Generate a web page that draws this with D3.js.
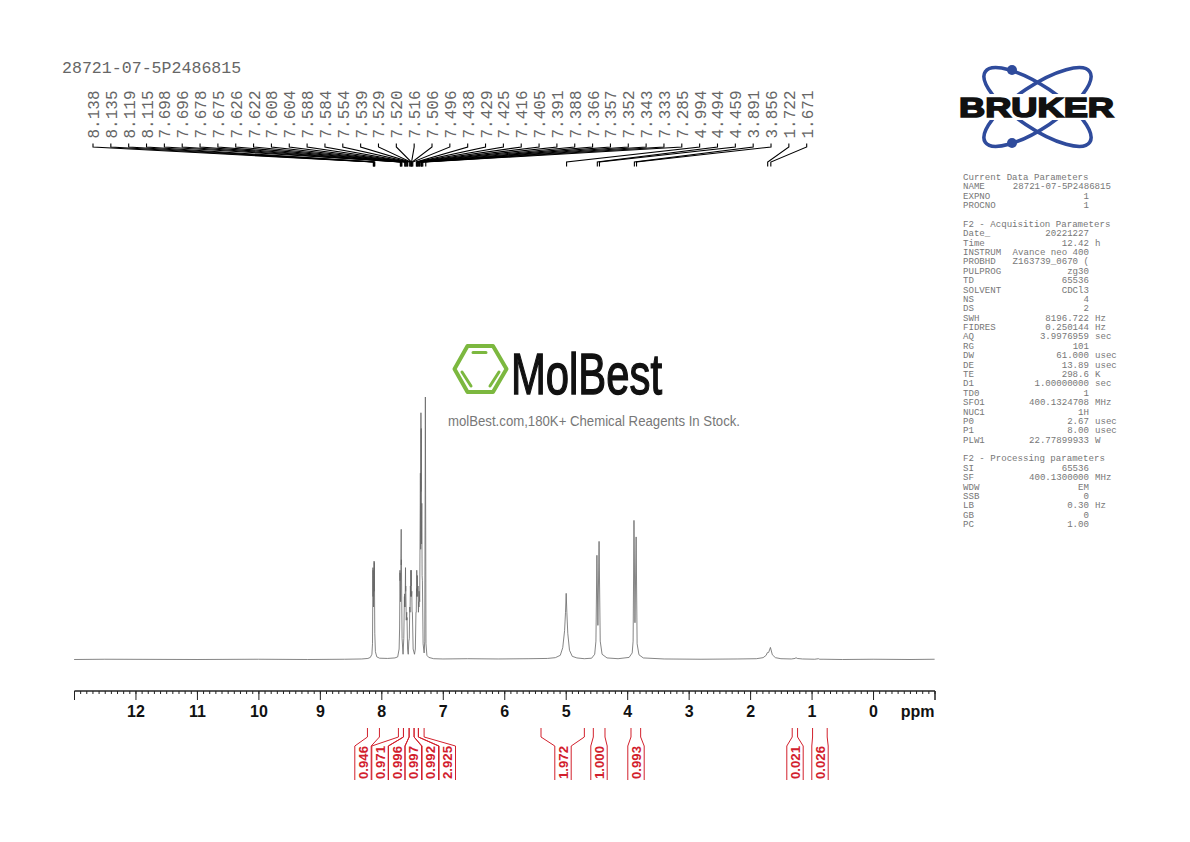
<!DOCTYPE html>
<html>
<head>
<meta charset="utf-8">
<title>28721-07-5P2486815</title>
<script src="https://cdn.jsdelivr.net/npm/d3@7"></script>
<style>
html, body { margin: 0; padding: 0; background: #fff; }
svg { display: block; }
</style>
</head>
<body>
<div id="chart"></div>
<script>
var sampleName = "28721-07-5P2486815";
var peakLabels = ["8.138","8.135","8.119","8.115","7.698","7.696","7.678","7.675","7.626","7.622","7.608","7.604","7.588","7.584","7.554","7.539","7.529","7.520","7.516","7.506","7.496","7.438","7.429","7.425","7.416","7.405","7.391","7.388","7.366","7.357","7.352","7.343","7.333","7.285","4.994","4.494","4.459","3.891","3.856","1.722","1.671"];

// spectrum trace: [ppm, height in % of the tallest peak]
var traceBaseLeft = [[13,0],[12.5,0.1],[11,0],[10,0.1],[9.2,0],[8.6,0.1],[8.32,0.2],[8.22,0.4]];
var traceAromatic1 = [[8.18,0.8],[8.155,2],[8.145,6],[8.138,35],[8.1365,24],[8.135,34],[8.128,20],[8.119,37.5],[8.117,26],[8.115,37],[8.108,10],[8.098,3],[8.075,1],[8.03,0.5],[7.9,0.4],[7.78,0.6]];
var traceAromatic2 = [[7.735,1],[7.712,4],[7.704,12],[7.698,34],[7.697,30],[7.696,33],[7.688,22],[7.678,49.6],[7.6765,36],[7.675,38],[7.664,8],[7.648,2],[7.636,8],[7.626,24],[7.624,20],[7.622,25],[7.615,20],[7.608,35],[7.606,26],[7.604,28],[7.596,15],[7.588,18],[7.586,15],[7.584,16],[7.574,4],[7.564,2]];
var traceAromatic3 = [[7.554,7],[7.546,8],[7.539,20],[7.534,18],[7.529,28],[7.524,24],[7.52,34],[7.518,28],[7.516,34],[7.511,24],[7.506,26],[7.501,18],[7.496,18],[7.484,4],[7.462,2],[7.448,4],[7.438,18],[7.433,18],[7.429,27],[7.427,24],[7.425,34],[7.42,26],[7.416,32],[7.41,24],[7.405,28],[7.398,18],[7.391,22],[7.39,20],[7.388,26],[7.377,22]];
var traceAromatic4 = [[7.366,71],[7.361,42],[7.357,94],[7.3545,64],[7.352,88],[7.347,44],[7.343,59.5],[7.338,32],[7.333,30],[7.322,6],[7.305,2.5],[7.295,7],[7.285,100],[7.275,6],[7.26,1.6],[7.23,0.8],[7.15,0.3]];
var traceMiddle = [[7,0.2],[6.6,0.3],[6.1,0.2],[5.6,0.3],[5.3,0.4],[5.17,0.7],[5.09,1.6],[5.05,4.5],[5.02,11],[5.005,18],[4.994,25.2],[4.983,18],[4.968,10],[4.94,3.5],[4.895,1.2],[4.82,0.6],[4.7,0.3],[4.58,0.5],[4.53,2],[4.51,7],[4.494,39.7],[4.478,13],[4.459,45],[4.44,7],[4.41,2],[4.33,0.6],[4.15,0.3],[3.97,0.8],[3.92,2.5],[3.905,7],[3.891,53],[3.875,14],[3.856,46.7],[3.84,6],[3.81,1.8],[3.74,0.6]];
var traceBaseRight = [[3.4,0.2],[2.8,0.1],[2.2,0.2],[1.9,0.3],[1.79,0.7],[1.74,1.6],[1.722,2.6],[1.7,2.7],[1.671,4.6],[1.64,1.8],[1.59,0.7],[1.5,0.3],[1.33,0.2],[1.27,0.4],[1.255,0.7],[1.235,0.4],[1.15,0.2],[0.95,0.1],[0.89,0.3],[0.87,0.1],[0.8,0.1],[0.5,0],[0,0.1],[-0.6,0],[-1,0.1]];

var axisMajor = [12,11,10,9,8,7,6,5,4,3,2,1,0];

// integral regions: left ppm, right ppm, value
var integralFrom = [8.234,7.730,7.648,7.556,7.475,7.405,5.41,4.559,3.946,1.323,0.992];
var integralTo = [8.039,7.648,7.556,7.475,7.405,7.312,4.705,4.369,3.789,1.236,0.754];
var integralValues = ["0.946","0.971","0.996","0.997","0.992","2.925","1.972","1.000","0.993","0.021","0.026"];

var paramNames = ["NAME","EXPNO","PROCNO","Date_","Time","INSTRUM","PROBHD","PULPROG","TD","SOLVENT","NS","DS","SWH","FIDRES","AQ","RG","DW","DE","TE","D1","TD0","SFO1","NUC1","P0","P1","PLW1","SI","SF","WDW","SSB","LB","GB","PC"];
var paramRows = [1,2,3,6,7,8,9,10,11,12,13,14,15,16,17,18,19,20,21,22,23,24,25,26,27,28,31,32,33,34,35,36,37];
var paramValues = ["28721-07-5P2486815","1","1","20221227","12.42","Avance neo 400","Z163739_0670 (","zg30","65536","CDCl3","4","2","8196.722","0.250144","3.9976959","101","61.000","13.89","298.6","1.00000000","1","400.1324708","1H","2.67","8.00","22.77899933","65536","400.1300000","EM","0","0.30","0","1.00"];
var paramUnits = ["","","","","h","","","","","","","","Hz","Hz","sec","","usec","usec","K","sec","","MHz","","usec","usec","W","","MHz","","","Hz","",""];

var width = 1190, height = 842;
var svg = d3.select("#chart").append("svg")
    .attr("width", width)
    .attr("height", height);

var x = d3.scaleLinear().domain([13, -1]).range([74.5, 935]);
var y = d3.scaleLinear().domain([0, 100]).range([659.5, 397]);
var mono = "'Liberation Mono', monospace";
var sans = "'Liberation Sans', Arial, sans-serif";

// title
svg.append("text")
    .attr("x", 62).attr("y", 73)
    .attr("font-family", mono).attr("font-size", 16.6)
    .attr("fill", "#666")
    .text(sampleName);

// spectrum
var trace = [].concat(traceBaseLeft, traceAromatic1, traceAromatic2, traceAromatic3, traceAromatic4, traceMiddle, traceBaseRight);
var line = d3.line()
    .x(function (d) { return x(d[0]); })
    .y(function (d) { return y(d[1]); });
svg.append("path")
    .datum(trace)
    .attr("d", line)
    .attr("transform", "translate(-0.4,0)")
    .attr("fill", "none")
    .attr("stroke", "#666")
    .attr("stroke-width", 0.8);

// peak labels + leader lines
var labelX = d3.scalePoint().domain(d3.range(peakLabels.length)).range([93, 806.7]);
var peakG = svg.append("g");
peakG.selectAll("path").data(peakLabels).enter().append("path")
    .attr("d", function (d, i) {
        var lx = labelX(i), px = x(+d);
        return "M" + lx + ",143.5L" + lx + ",147L" + px + ",162L" + px + ",166.5";
    })
    .attr("fill", "none")
    .attr("stroke", "#000")
    .attr("stroke-width", 1.1);
peakG.selectAll("text").data(peakLabels).enter().append("text")
    .attr("transform", function (d, i) { return "translate(" + (labelX(i) + 6) + ",138.5) rotate(-90)"; })
    .attr("font-family", mono).attr("font-size", 16)
    .attr("fill", "#666")
    .text(function (d) { return d; });

// ppm axis
var axisG = svg.append("g").attr("transform", "translate(0,691)");
var minorTicks = d3.range(-10, 131).map(function (d) { return d / 10; });
axisG.call(d3.axisBottom(x).tickValues(minorTicks).tickSize(3).tickSizeOuter(9).offset(0).tickFormat(""));
axisG.append("g").call(d3.axisBottom(x).tickValues(axisMajor).tickSize(9).tickSizeOuter(9).tickPadding(6).offset(0).tickFormat(d3.format("d")));
axisG.selectAll("path, line").attr("stroke", "#222").attr("stroke-width", 1);
axisG.selectAll("text")
    .attr("font-family", sans).attr("font-size", 16).attr("font-weight", "bold").attr("fill", "#111");
svg.append("text")
    .attr("x", 934.5).attr("y", 717)
    .attr("text-anchor", "end")
    .attr("font-family", sans).attr("font-size", 16).attr("font-weight", "bold").attr("fill", "#111")
    .text("ppm");

// integrals
var integralSlots = [363, 380, 396.7, 413.3, 430.3, 447.3, 563, 599, 636, 795, 820];
var integralG = svg.append("g");
integralG.selectAll("path").data(integralValues).enter().append("path")
    .attr("d", function (d, i) {
        var c = integralSlots[i], half = 8.2;
        return "M" + x(integralFrom[i]) + ",728L" + x(integralFrom[i]) + ",737L" + (c - half) + ",746L" + (c - half) + ",780" +
            "M" + x(integralTo[i]) + ",728L" + x(integralTo[i]) + ",737L" + (c + half) + ",746L" + (c + half) + ",780";
    })
    .attr("fill", "none")
    .attr("stroke", "#d2202c")
    .attr("stroke-width", 1);
integralG.selectAll("text").data(integralValues).enter().append("text")
    .attr("transform", function (d, i) { return "translate(" + (integralSlots[i] + 4.8) + ",779) rotate(-90)"; })
    .attr("font-family", sans).attr("font-size", 13.2).attr("font-weight", "bold")
    .attr("fill", "#d2202c")
    .text(function (d) { return d; });

// parameter block
function rowY(r) { return 180 + r * 9.38; }
var paramG = svg.append("g")
    .attr("font-family", mono).attr("font-size", 9.1).attr("fill", "#777");
paramG.append("text").attr("x", 963).attr("y", rowY(0)).text("Current Data Parameters");
paramG.append("text").attr("x", 963).attr("y", rowY(5)).text("F2 - Acquisition Parameters");
paramG.append("text").attr("x", 963).attr("y", rowY(30)).text("F2 - Processing parameters");
paramNames.forEach(function (n, i) {
    var r = paramRows[i];
    paramG.append("text").attr("x", 963).attr("y", rowY(r)).text(n);
    paramG.append("text").attr("x", i === 0 ? 1111 : 1089).attr("y", rowY(r)).attr("text-anchor", "end").text(paramValues[i]);
    if (paramUnits[i]) paramG.append("text").attr("x", 1095).attr("y", rowY(r)).text(paramUnits[i]);
});

// Bruker logo
var bruker = svg.append("g");
[-34, 34].forEach(function (a) {
    bruker.append("ellipse")
        .attr("rx", 63).attr("ry", 21)
        .attr("transform", "translate(1037.5,107) rotate(" + a + ")")
        .attr("fill", "none").attr("stroke", "#2f4b9c").attr("stroke-width", 3.6);
});
[70, 143].forEach(function (cy) {
    bruker.append("circle").attr("cx", 1012).attr("cy", cy).attr("r", 5).attr("fill", "#2f4b9c");
});
bruker.append("rect").attr("x", 955).attr("y", 94).attr("width", 164).attr("height", 26).attr("fill", "#fff");
bruker.append("text")
    .attr("x", 959).attr("y", 117)
    .attr("font-family", sans).attr("font-size", 27.5).attr("font-weight", "bold")
    .attr("textLength", 155).attr("lengthAdjust", "spacingAndGlyphs")
    .attr("fill", "#111").attr("stroke", "#111").attr("stroke-width", 1.6)
    .text("BRUKER");

// MolBest watermark
var mol = svg.append("g");
mol.append("path")
    .attr("d", "M454.5,369L467.5,346L493,346L506.5,369L493,392L467.5,392Z")
    .attr("fill", "none").attr("stroke", "#7cb83f").attr("stroke-width", 4).attr("stroke-linejoin", "round");
mol.append("path")
    .attr("d", "M473,352.5L486,352.5M462,372L471,386M490,386L499,372")
    .attr("fill", "none").attr("stroke", "#7cb83f").attr("stroke-width", 3).attr("stroke-linecap", "round");
mol.append("text")
    .attr("x", 511).attr("y", 394)
    .attr("font-family", sans).attr("font-size", 58)
    .attr("textLength", 151).attr("lengthAdjust", "spacingAndGlyphs")
    .attr("fill", "#111").attr("stroke", "#111").attr("stroke-width", 1.4)
    .text("MolBest");
mol.append("text")
    .attr("x", 448).attr("y", 426)
    .attr("font-family", sans).attr("font-size", 14)
    .attr("textLength", 292).attr("lengthAdjust", "spacingAndGlyphs")
    .attr("fill", "#777")
    .text("molBest.com,180K+ Chemical Reagents In Stock.");
</script>
</body>
</html>
